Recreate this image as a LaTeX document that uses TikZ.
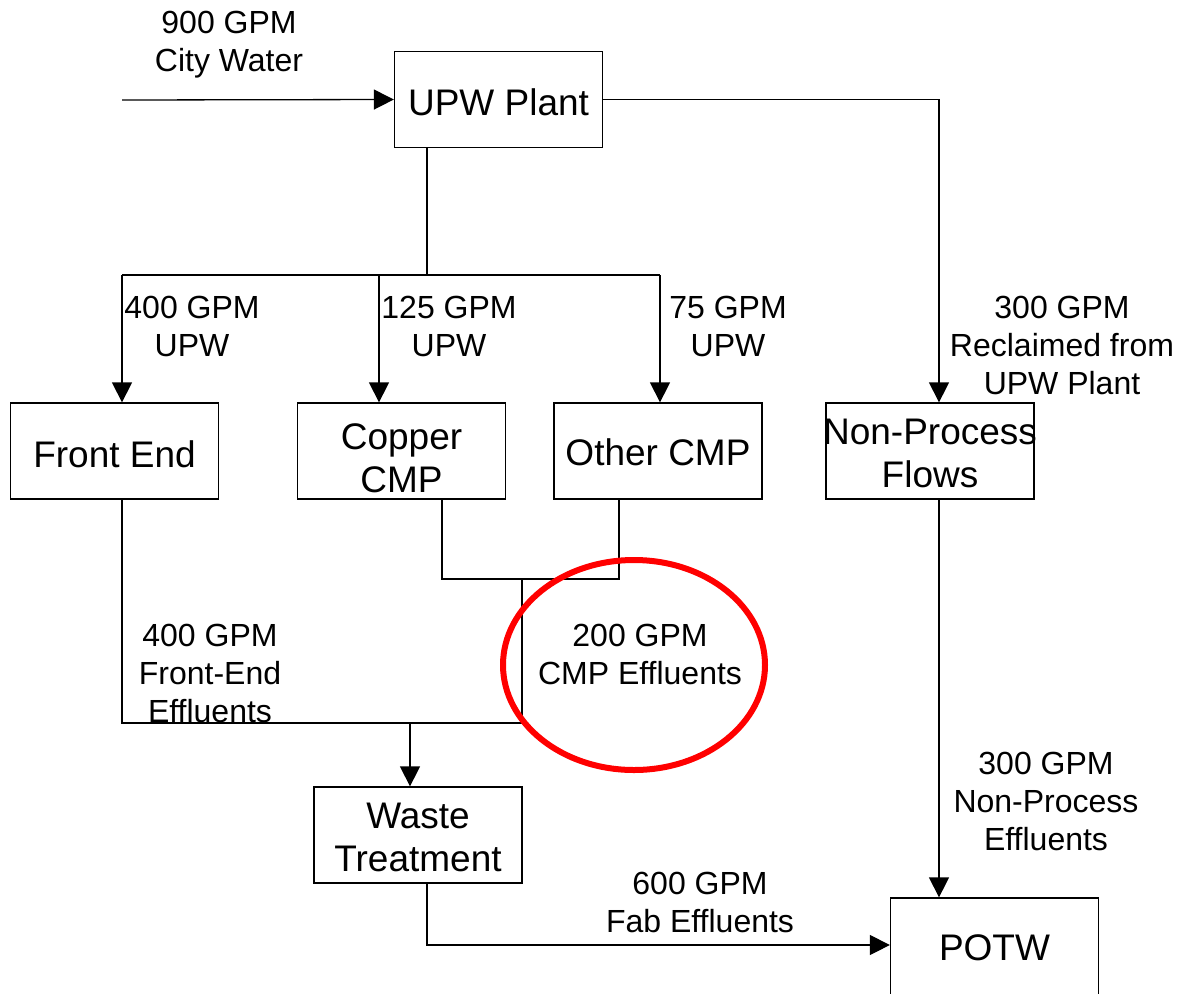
\documentclass[tikz,border=0pt]{standalone}
\usepackage{fontspec}
\setmainfont{Liberation Sans}
\usetikzlibrary{arrows.meta}
\begin{document}
\begin{tikzpicture}[x=1pt,y=-1pt,
  box/.style={draw,line width=1.3pt,minimum width=208pt,minimum height=96pt,inner sep=0pt},
  btxt/.style={align=center,inner sep=0pt,font=\fontsize{37}{43}\selectfont},
  lbl/.style={align=center,inner sep=0pt,font=\fontsize{32}{38}\selectfont},
  wire/.style={line width=1.3pt},
  arr/.style={wire,-{Triangle[width=20pt,length=20pt]}},
]
\clip (0,0) rectangle (1177,993);
\fill[white] (0,0) rectangle (1177,993);
% boxes
\node[box,label={[btxt,yshift=-3pt]center:UPW Plant}] (upw) at (498.5,99.5) {};
\node[box,label={[btxt,yshift=-3pt]center:Front End}] (fe) at (114.5,451) {};
\node[box,label={[btxt,yshift=-7pt]center:Copper\\CMP}] (cp) at (401.5,451) {};
\node[box,label={[btxt,yshift=-1pt]center:Other CMP}] (op) at (658,451) {};
\node[box,label={[btxt,yshift=-2pt]center:Non-Process\\Flows}] (np) at (930,451) {};
\node[box,label={[btxt,yshift=-2pt]center:Waste\\Treatment}] (ws) at (418,835) {};
\node[box,minimum height=120pt,label={[btxt,yshift=10pt]center:POTW}] (potw) at (994.5,958) {};
% labels
\node[lbl] (l900) at (229,45) {900 GPM\\City Water};
\node[lbl] (l400) at (192,326) {400 GPM\\UPW};
\node[lbl] (l125) at (449,326) {125 GPM\\UPW};
\node[lbl] (l75) at (728,326) {75 GPM\\UPW};
\node[lbl] (l300a) at (1062,345) {300 GPM\\Reclaimed from\\UPW Plant};
\node[lbl] (l400b) at (210,673) {400 GPM\\Front-End\\Effluents};
\node[lbl] (l200) at (640,654) {200 GPM\\CMP Effluents};
\node[lbl] (l300b) at (1046,801) {300 GPM\\Non-Process\\Effluents};
\node[lbl] (l600) at (700,902) {600 GPM\\Fab Effluents};
% coordinates
\coordinate (cw) at (122,100);
\coordinate (nx) at (939,600);
\coordinate (bus) at (427,275);
\coordinate (b1) at (122,275);
\coordinate (b2) at (379,275);
\coordinate (b3) at (660,275);
\coordinate (m1) at (442,579);
\coordinate (m2) at (619,579);
\coordinate (mj) at (522,579);
\coordinate (j2) at (522,723);
\coordinate (j1) at (122,723);
\coordinate (wj) at (410,723);
\coordinate (wo) at (427,945);
\coordinate (pw) at (890,945);
% connectors
\draw[arr] (cw) -- (upw.west);
\draw[arr] (upw.east) -| (nx |- np.north);
\draw[wire] (upw.south -| bus) -- (bus);
\draw[wire] (b1) -- (b3);
\draw[arr] (b1) -- (b1 |- fe.north);
\draw[arr] (b2) -- (b2 |- cp.north);
\draw[arr] (b3) -- (b3 |- op.north);
\draw[wire] (cp.south -| m1) -- (m1) -- (m2) -- (op.south -| m2);
\draw[wire] (mj) -- (j2) -- (j1) -- (fe.south -| j1);
\draw[arr] (wj) -- (wj |- ws.north);
\draw[arr] (ws.south -| wo) |- (potw.west |- pw);
\draw[arr] (np.south -| nx) -- (nx |- potw.north);
% highlight
\draw[red,line width=6pt] (634,665) ellipse [x radius=131pt, y radius=105pt];
\end{tikzpicture}
\end{document}
